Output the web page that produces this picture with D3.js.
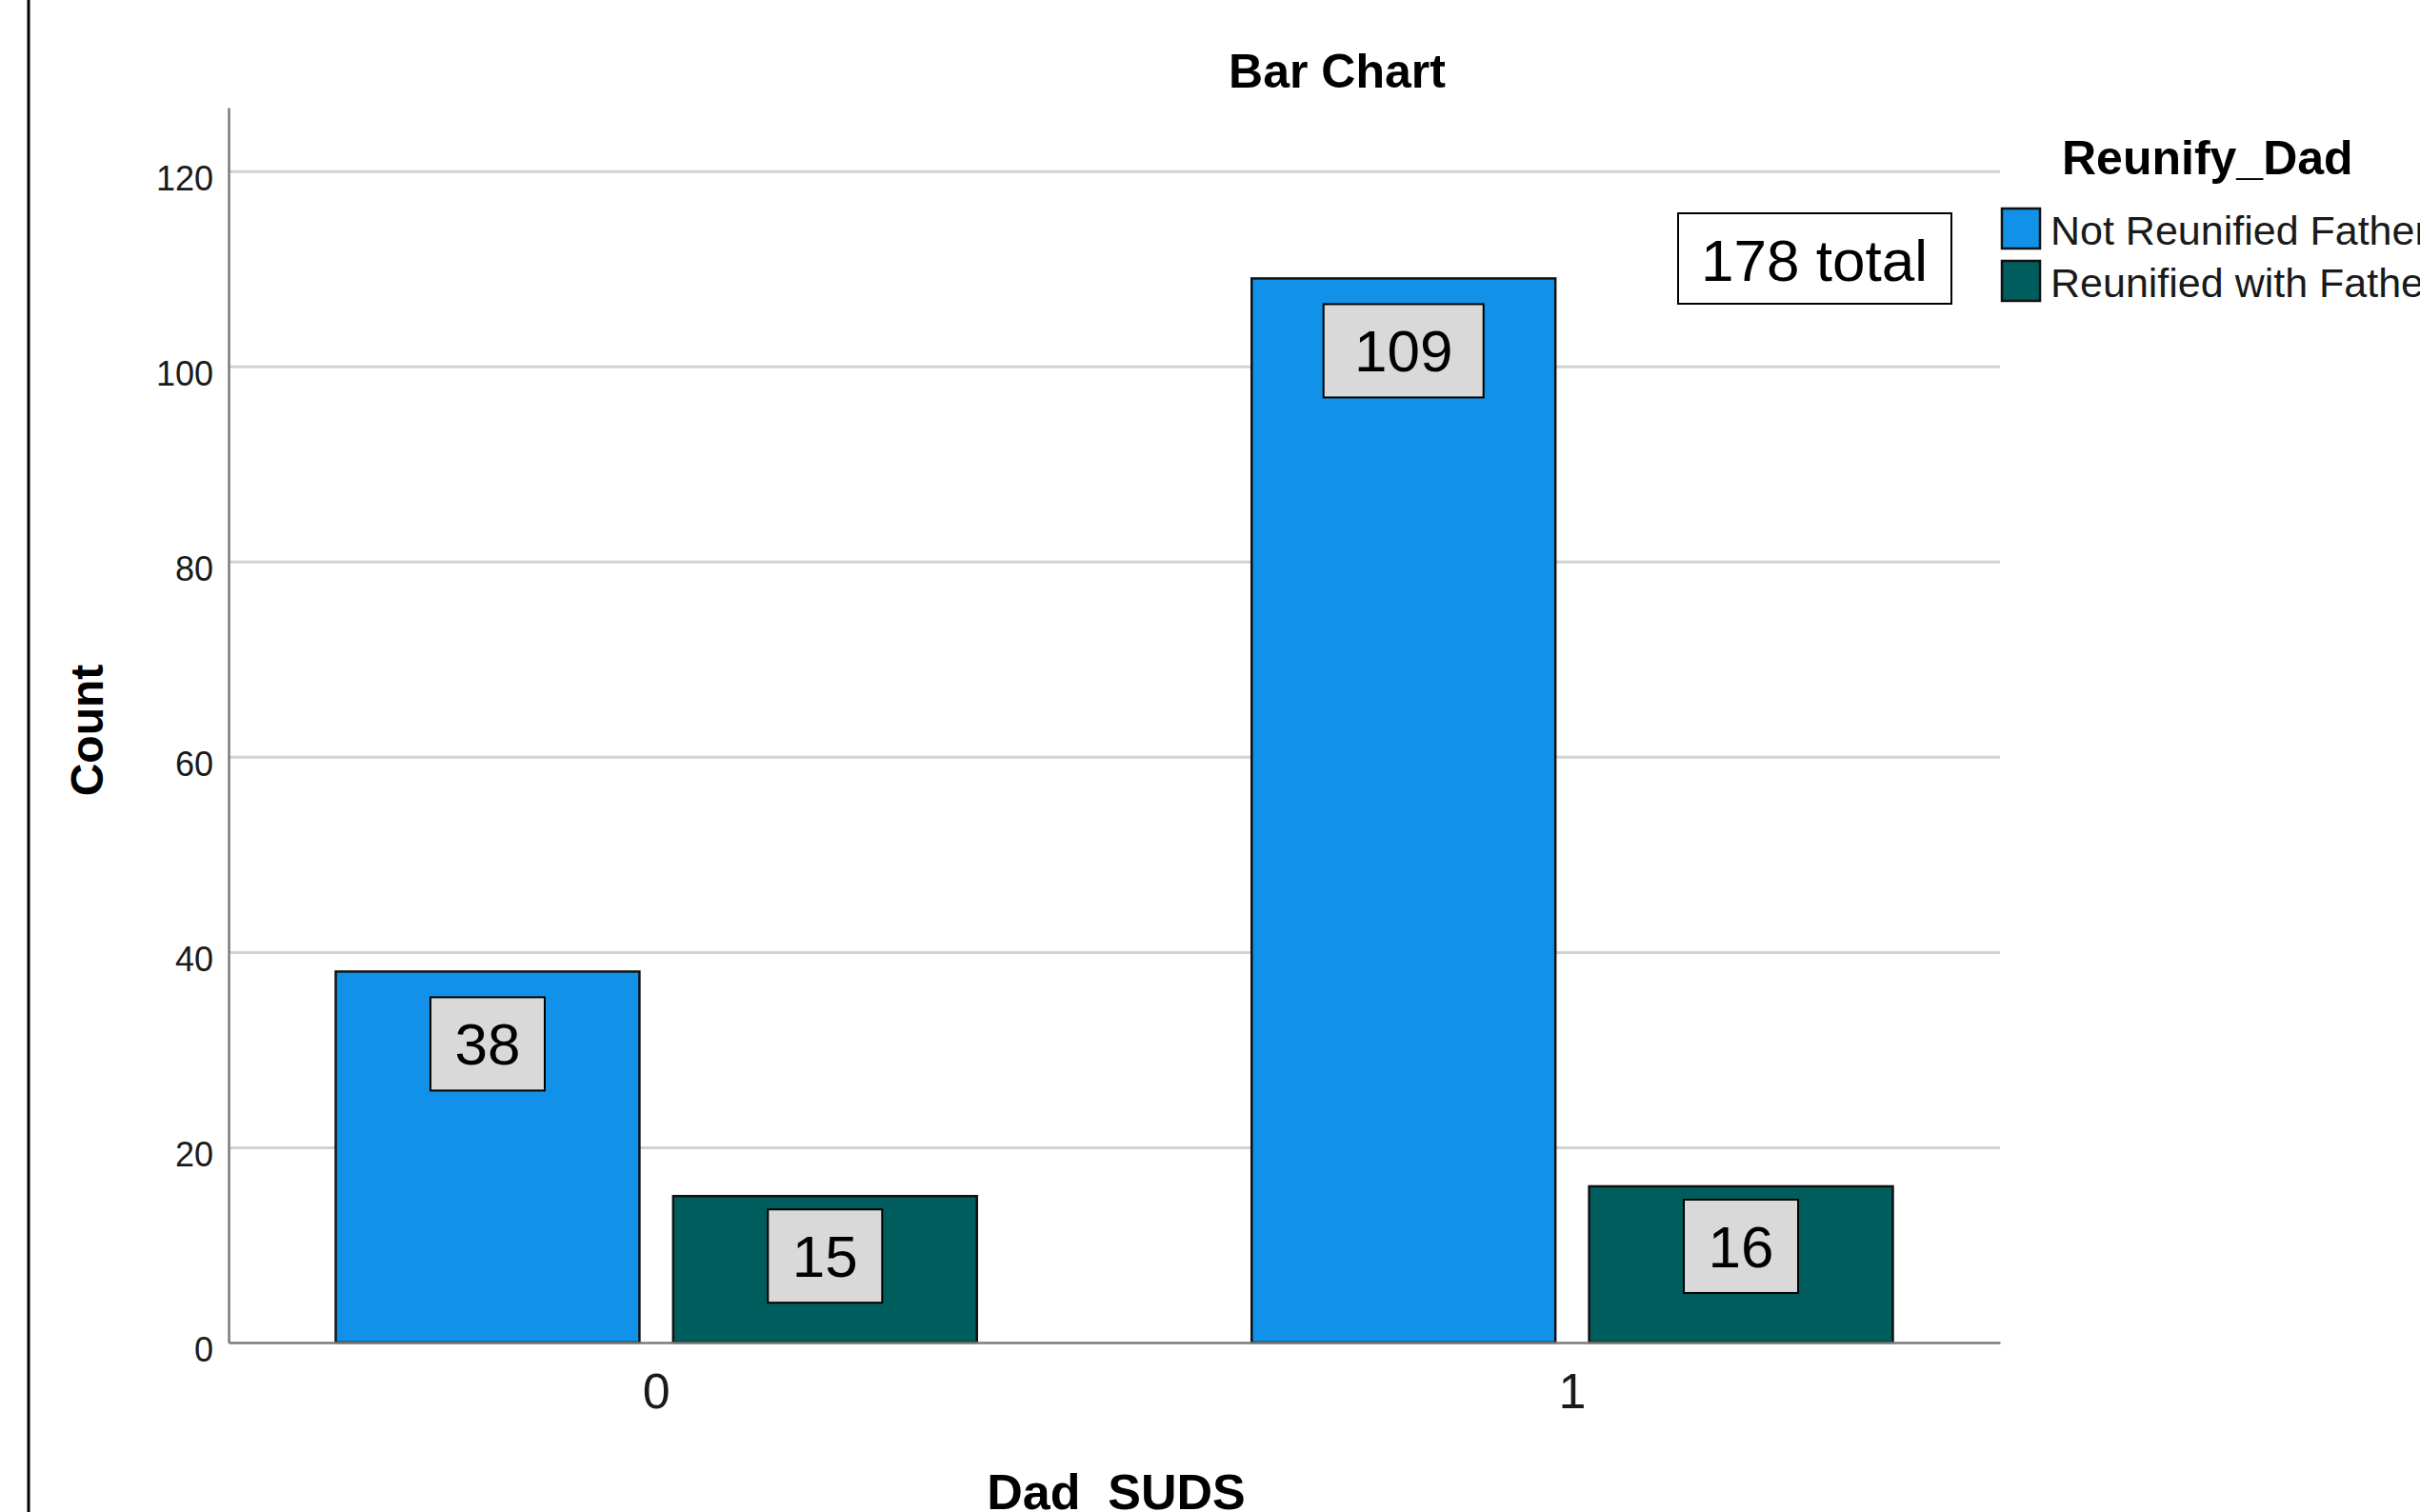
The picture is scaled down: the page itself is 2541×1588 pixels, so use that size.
<!DOCTYPE html>
<html>
<head>
<meta charset="utf-8">
<title>Bar Chart</title>
<script src="https://cdn.jsdelivr.net/npm/d3@7"></script>
<style>
  html, body { margin: 0; padding: 0; background: #ffffff; }
  svg { display: block; font-family: "Liberation Sans", Arial, sans-serif; }
  .grid line { stroke: #d2d2d2; stroke-width: 3; }
  .grid path { display: none; }
  .axis path { stroke: #7a7a7a; stroke-width: 2.5; }
  .axis text { fill: #1a1a1a; }
</style>
</head>
<body>
<svg id="chart" width="2541" height="1588"></svg>
<script>
// chart values
var categories = ["0", "1"];
var seriesNames = ["Not Reunified Father", "Reunified with Father"];
var notReunified = [38, 109];
var reunified = [15, 16];
var yTicks = [0, 20, 40, 60, 80, 100, 120];

var colours = ["#1192e8", "#005d5d"];

/*
  NAME: drawChart
  DESCRIPTION: builds scales, axes, bars, value boxes and legend
*/
function drawChart() {
  var svg = d3.select("#chart");

  var plot = { left: 240, right: 2100, top: 113, bottom: 1410 };

  // table built from the named arrays
  var rows = categories.map(function (c, i) {
    return { cat: c, values: [notReunified[i], reunified[i]] };
  });
  var total = d3.sum(notReunified) + d3.sum(reunified);

  var x0 = d3.scaleBand()
    .domain(categories)
    .range([plot.left, plot.right])
    .paddingInner(0.3)
    .paddingOuter(0.117);

  var x1 = d3.scaleBand()
    .domain(d3.range(seriesNames.length))
    .range([0, x0.bandwidth()])
    .paddingInner(0.1);

  var y = d3.scaleLinear()
    .domain([0, 126.5])
    .range([plot.bottom, plot.top]);

  // left page border
  svg.append("line")
    .attr("x1", 30).attr("x2", 30)
    .attr("y1", 0).attr("y2", 1588)
    .attr("stroke", "#000").attr("stroke-width", 3);

  // gridlines
  svg.append("g")
    .attr("class", "grid")
    .attr("transform", "translate(" + plot.left + ",0)")
    .call(d3.axisLeft(y).tickValues(yTicks.slice(1)).tickSize(-(plot.right - plot.left)).tickFormat(""));

  // y axis
  var yAxis = svg.append("g")
    .attr("class", "axis")
    .attr("transform", "translate(" + plot.left + ",0)")
    .call(d3.axisLeft(y).tickValues(yTicks).tickSize(0).tickPadding(16));
  yAxis.selectAll("text")
    .style("font-size", "36px")
    .attr("dy", "0.55em");

  // bars
  var groups = svg.append("g")
    .selectAll("g")
    .data(rows)
    .join("g")
    .attr("transform", function (d) { return "translate(" + x0(d.cat) + ",0)"; });

  groups.selectAll("rect")
    .data(function (d) { return d.values; })
    .join("rect")
    .attr("x", function (d, i) { return x1(i); })
    .attr("y", function (d) { return y(d); })
    .attr("width", x1.bandwidth())
    .attr("height", function (d) { return y(0) - y(d); })
    .attr("fill", function (d, i) { return colours[i]; })
    .attr("stroke", "#111")
    .attr("stroke-width", 2.5);

  // value boxes
  var boxOffset = [27, 14];
  var labels = groups.selectAll("g.value")
    .data(function (d) { return d.values; })
    .join("g")
    .attr("class", "value")
    .attr("transform", function (d, i) {
      return "translate(" + (x1(i) + x1.bandwidth() / 2) + "," + (y(d) + boxOffset[i]) + ")";
    });

  labels.append("rect")
    .attr("x", function (d) { return -(String(d).length * 48 + 24) / 2; })
    .attr("y", 0)
    .attr("width", function (d) { return String(d).length * 48 + 24; })
    .attr("height", 98)
    .attr("fill", "#d9d9d9")
    .attr("stroke", "#000")
    .attr("stroke-width", 2);

  labels.append("text")
    .attr("x", 0)
    .attr("y", 71)
    .attr("text-anchor", "middle")
    .style("font-size", "62px")
    .attr("fill", "#000")
    .text(function (d) { return d; });

  // x axis baseline and category labels
  var xAxis = svg.append("g")
    .attr("class", "axis")
    .attr("transform", "translate(0," + plot.bottom + ")")
    .call(d3.axisBottom(x0).tickSize(0).tickPadding(32));
  xAxis.select("path").attr("stroke", "#555");
  xAxis.selectAll("text")
    .style("font-size", "52px")
    .attr("dy", "0.71em");

  // total box
  var totalBox = svg.append("g").attr("transform", "translate(1905,272)");
  totalBox.append("rect")
    .attr("x", -143).attr("y", -48)
    .attr("width", 287).attr("height", 95)
    .attr("fill", "#fff")
    .attr("stroke", "#000")
    .attr("stroke-width", 2);
  totalBox.append("text")
    .attr("text-anchor", "middle")
    .attr("y", 23)
    .style("font-size", "62px")
    .text(total + " total");

  // titles
  svg.append("text")
    .attr("x", 1404).attr("y", 92)
    .attr("text-anchor", "middle")
    .style("font-size", "50px").style("font-weight", "bold")
    .text("Bar Chart");

  svg.append("text")
    .attr("transform", "translate(108,767) rotate(-90)")
    .attr("text-anchor", "middle")
    .style("font-size", "48px").style("font-weight", "bold")
    .text("Count");

  svg.append("text")
    .attr("x", 1172).attr("y", 1585)
    .attr("text-anchor", "middle")
    .attr("xml:space", "preserve")
    .style("white-space", "pre")
    .style("font-size", "52px").style("font-weight", "bold")
    .text("Dad  SUDS");

  // legend
  var legend = svg.append("g");
  legend.append("text")
    .attr("x", 2165).attr("y", 183)
    .style("font-size", "50px").style("font-weight", "bold")
    .text("Reunify_Dad");

  var items = legend.selectAll("g.item")
    .data(seriesNames)
    .join("g")
    .attr("class", "item")
    .attr("transform", function (d, i) { return "translate(2102," + (219 + i * 55) + ")"; });

  items.append("rect")
    .attr("width", 40).attr("height", 42)
    .attr("fill", function (d, i) { return colours[i]; })
    .attr("stroke", "#111").attr("stroke-width", 2.5);

  items.append("text")
    .attr("x", 51).attr("y", 38)
    .style("font-size", "43px")
    .attr("fill", "#1a1a1a")
    .text(function (d) { return d; });

  return;
} // end function drawChart

drawChart();
</script>
</body>
</html>
